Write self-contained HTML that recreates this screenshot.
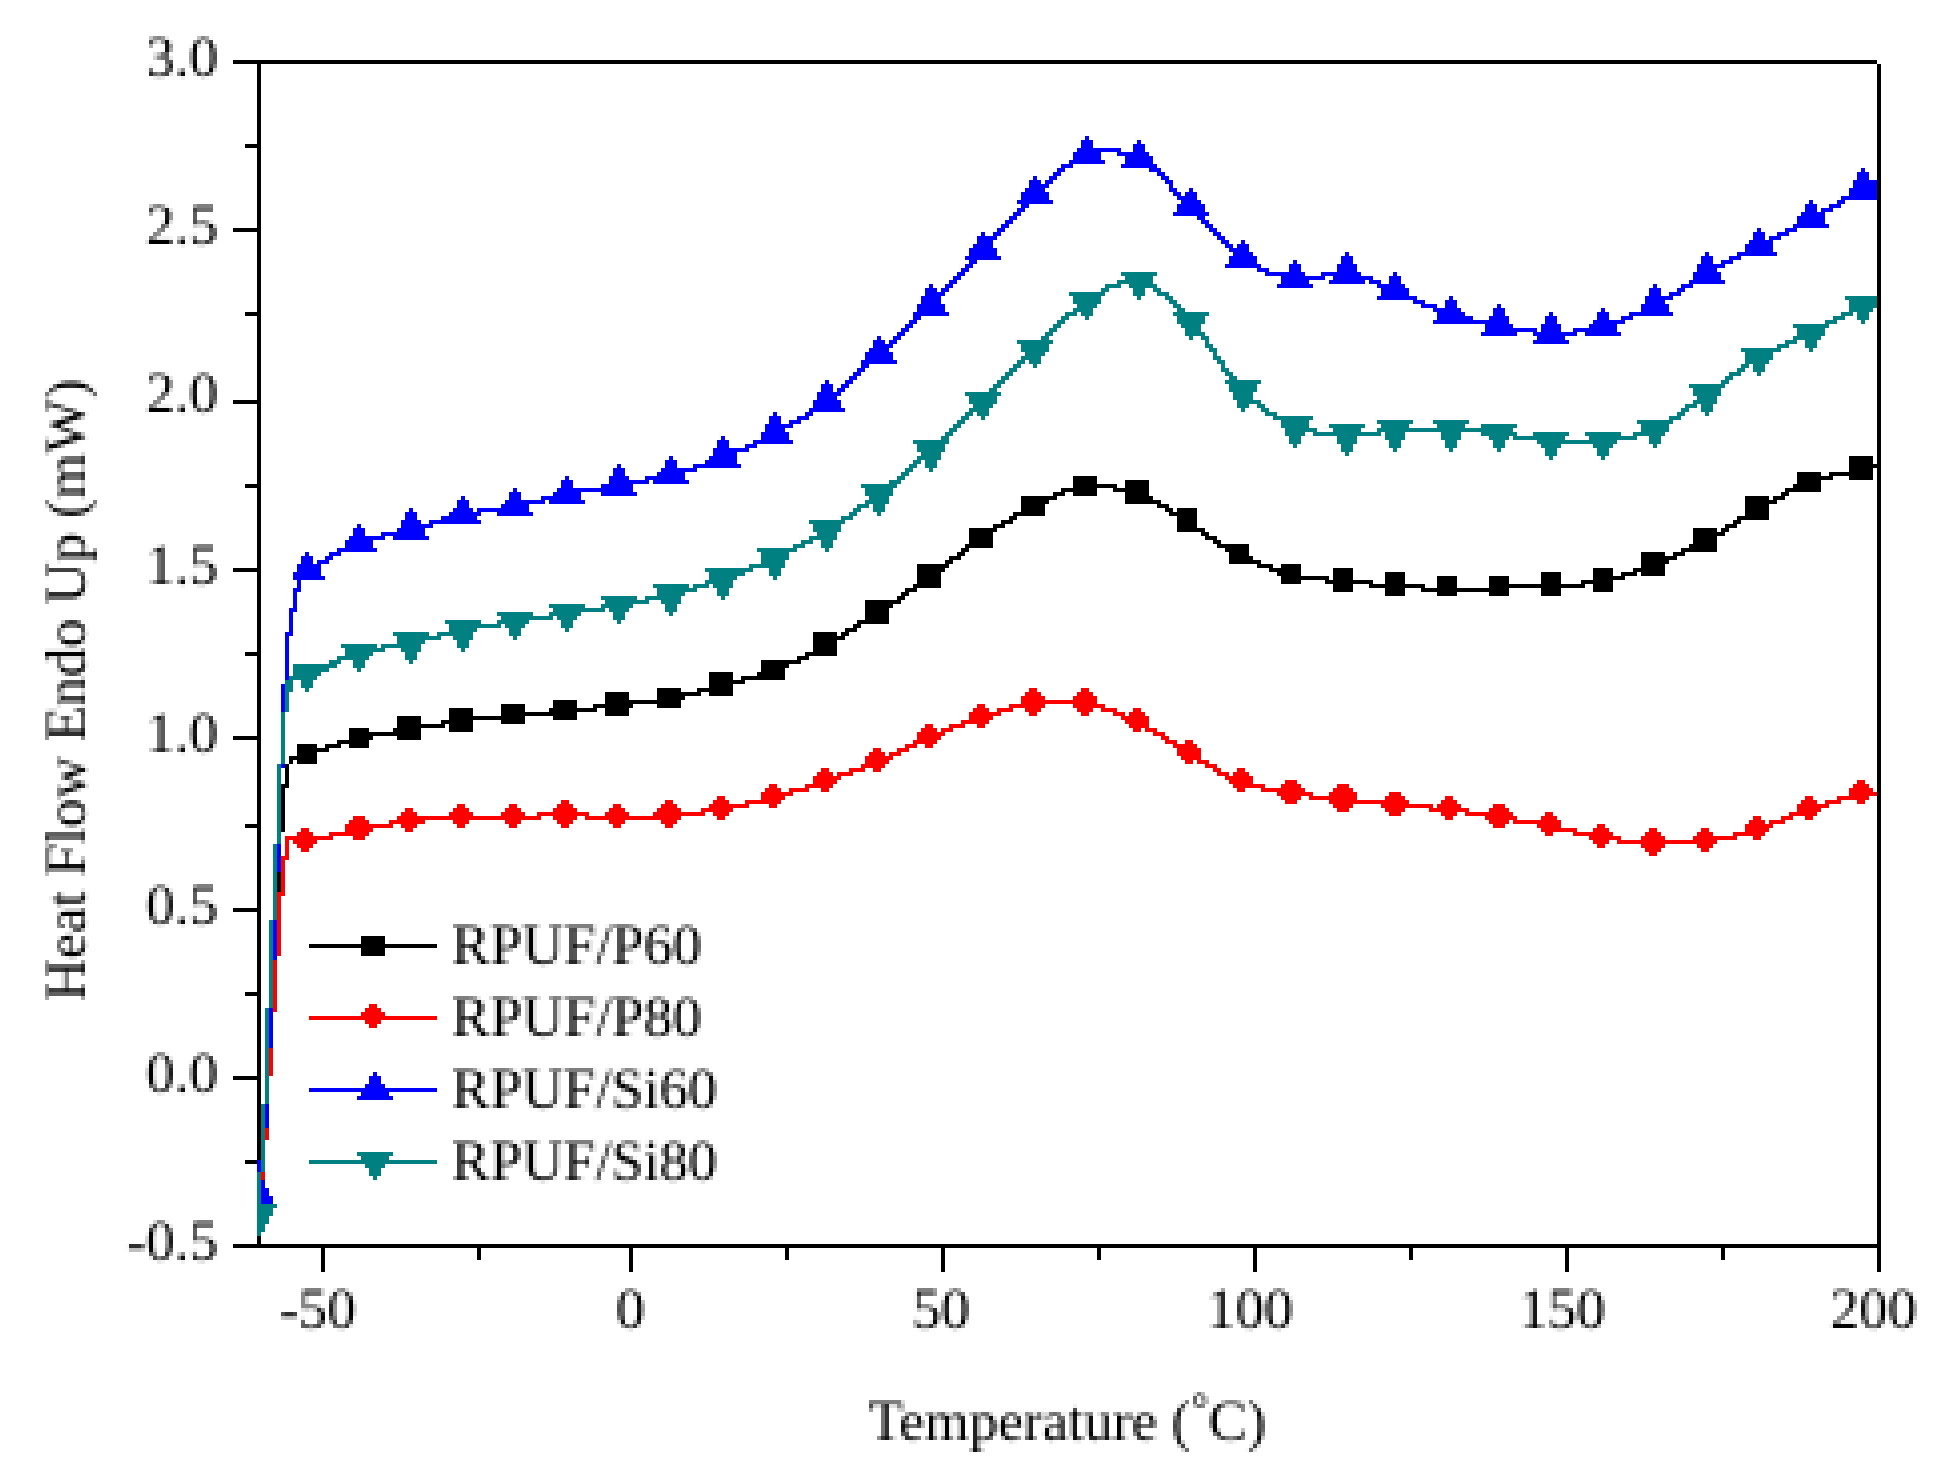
<!DOCTYPE html>
<html lang="en">
<head>
<meta charset="utf-8">
<title>DSC heat flow curves</title>
<style>
html,body{margin:0;padding:0;background:#fff;}
body{width:1938px;height:1476px;overflow:hidden;}
svg{display:block;}
text{font-family:"Liberation Serif",serif;font-size:57.6px;fill:#000;}
</style>
</head>
<body>
<svg width="1938" height="1476" viewBox="0 0 1938 1476">
<rect width="1938" height="1476" fill="#fff"/>
<g transform="translate(1 0) scale(4)" shape-rendering="crispEdges">
<path fill="#000000" d="M58 15h411v1h-411zM64 16h1v20h-1zM469 16h1v100h-1zM61 36h4v1h-4zM64 37h1v20h-1zM58 57h7v1h-7zM64 58h1v20h-1zM61 78h4v1h-4zM64 79h1v21h-1zM58 100h7v1h-7zM64 101h1v20h-1zM462 114h6v2h-6zM462 116h8v1h-8zM462 117h6v1h-6zM469 117h1v194h-1zM449 118h6v1h-6zM457 118h11v1h-11zM268 119h6v2h-6zM449 119h9v1h-9zM462 119h6v1h-6zM281 120h6v2h-6zM449 120h6v1h-6zM61 121h4v1h-4zM268 121h11v1h-11zM448 121h7v1h-7zM64 122h1v20h-1zM265 122h9v1h-9zM278 122h9v1h-9zM446 122h9v1h-9zM263 123h3v1h-3zM268 123h6v1h-6zM281 123h6v1h-6zM445 123h2v1h-2zM255 124h9v1h-9zM281 124h7v1h-7zM436 124h6v1h-6zM443 124h3v1h-3zM255 125h7v1h-7zM281 125h9v1h-9zM436 125h8v1h-8zM255 126h6v2h-6zM289 126h3v1h-3zM436 126h6v3h-6zM291 127h2v1h-2zM294 127h5v1h-5zM253 128h8v1h-8zM292 128h7v1h-7zM252 129h2v1h-2zM294 129h5v3h-5zM434 129h8v1h-8zM250 130h3v1h-3zM433 130h2v1h-2zM248 131h3v1h-3zM431 131h3v1h-3zM242 132h7v1h-7zM294 132h7v1h-7zM423 132h6v1h-6zM430 132h2v1h-2zM242 133h6v3h-6zM300 133h2v1h-2zM423 133h8v1h-8zM301 134h3v1h-3zM423 134h6v2h-6zM303 135h2v1h-2zM241 136h7v1h-7zM304 136h8v1h-8zM422 136h7v1h-7zM240 137h2v1h-2zM306 137h6v1h-6zM420 137h9v1h-9zM239 138h2v1h-2zM307 138h5v1h-5zM410 138h6v1h-6zM418 138h3v1h-3zM237 139h3v1h-3zM307 139h6v1h-6zM410 139h9v1h-9zM236 140h2v1h-2zM307 140h8v1h-8zM410 140h7v1h-7zM229 141h8v1h-8zM314 141h4v1h-4zM320 141h5v1h-5zM410 141h6v1h-6zM58 142h7v1h-7zM229 142h7v1h-7zM317 142h8v1h-8zM333 142h5v3h-5zM398 142h5v2h-5zM408 142h8v1h-8zM64 143h1v20h-1zM229 143h6v3h-6zM319 143h6v1h-6zM346 143h5v3h-5zM385 143h5v3h-5zM405 143h4v1h-4zM410 143h6v1h-6zM320 144h12v1h-12zM359 144h5v3h-5zM372 144h5v2h-5zM398 144h8v1h-8zM320 145h5v1h-5zM331 145h12v1h-12zM395 145h8v1h-8zM228 146h7v1h-7zM333 146h5v2h-5zM342 146h14v1h-14zM372 146h24v1h-24zM398 146h5v2h-5zM226 147h3v1h-3zM346 147h5v2h-5zM355 147h22v1h-22zM385 147h5v2h-5zM225 148h2v1h-2zM359 148h5v1h-5zM372 148h5v1h-5zM224 149h2v1h-2zM216 150h9v1h-9zM216 151h7v1h-7zM216 152h6v3h-6zM214 155h8v1h-8zM213 156h2v1h-2zM211 157h3v1h-3zM203 158h6v1h-6zM210 158h2v1h-2zM203 159h8v1h-8zM203 160h6v3h-6zM61 163h4v1h-4zM201 163h8v1h-8zM64 164h1v20h-1zM199 164h3v1h-3zM190 165h10v1h-10zM190 166h7v1h-7zM190 167h6v1h-6zM177 168h6v2h-6zM189 168h7v1h-7zM185 169h11v1h-11zM177 170h9v1h-9zM177 171h6v1h-6zM164 172h6v1h-6zM174 172h9v1h-9zM151 173h6v2h-6zM164 173h11v1h-11zM177 173h6v1h-6zM164 174h7v1h-7zM138 175h6v2h-6zM151 175h19v1h-19zM125 176h6v2h-6zM148 176h10v1h-10zM164 176h6v1h-6zM112 177h6v2h-6zM137 177h12v1h-12zM151 177h6v2h-6zM125 178h19v1h-19zM99 179h6v2h-6zM112 179h19v1h-19zM138 179h6v1h-6zM110 180h8v1h-8zM125 180h6v1h-6zM99 181h12v1h-12zM112 181h6v2h-6zM87 182h5v1h-5zM98 182h7v1h-7zM87 183h18v1h-18zM58 184h7v1h-7zM87 184h6v1h-6zM99 184h6v1h-6zM64 185h1v21h-1zM84 185h8v1h-8zM74 186h5v1h-5zM81 186h4v1h-4zM87 186h5v1h-5zM74 187h8v1h-8zM74 188h5v1h-5zM72 189h7v1h-7zM72 190h1v1h-1zM74 190h5v1h-5zM71 191h1v5h-1zM70 196h2v1h-2zM70 197h1v11h-1zM61 206h4v1h-4zM64 207h1v20h-1zM69 218h1v5h-1zM58 227h7v1h-7zM64 228h1v20h-1zM90 234h6v2h-6zM77 236h32v1h-32zM90 237h6v2h-6zM61 248h4v1h-4zM64 249h1v20h-1zM58 269h7v1h-7zM64 270h1v20h-1zM61 290h3v1h-3zM64 309h1v2h-1zM58 311h412v1h-412zM80 312h1v6h-1zM119 312h1v3h-1zM157 312h1v6h-1zM196 312h1v3h-1zM235 312h1v6h-1zM274 312h1v3h-1zM313 312h1v6h-1zM352 312h1v3h-1zM391 312h1v6h-1zM430 312h1v3h-1zM469 312h1v6h-1z"/>
<path fill="#ff0000" d="M257 172h2v1h-2zM270 172h2v1h-2zM256 173h4v1h-4zM269 173h4v1h-4zM255 174h6v1h-6zM268 174h6v1h-6zM255 175h19v1h-19zM244 176h2v1h-2zM252 176h9v1h-9zM268 176h8v1h-8zM243 177h4v1h-4zM249 177h4v1h-4zM256 177h4v1h-4zM269 177h4v1h-4zM275 177h4v1h-4zM283 177h2v1h-2zM242 178h8v1h-8zM257 178h2v1h-2zM270 178h2v1h-2zM278 178h3v1h-3zM282 178h4v1h-4zM242 179h6v1h-6zM280 179h7v1h-7zM240 180h7v1h-7zM281 180h6v1h-6zM231 181h2v1h-2zM237 181h4v1h-4zM244 181h2v1h-2zM282 181h5v1h-5zM230 182h4v1h-4zM235 182h3v1h-3zM283 182h2v1h-2zM286 182h3v1h-3zM229 183h7v1h-7zM288 183h3v1h-3zM229 184h6v1h-6zM290 184h2v1h-2zM228 185h6v1h-6zM291 185h3v1h-3zM296 185h2v1h-2zM226 186h3v1h-3zM231 186h2v1h-2zM293 186h6v1h-6zM218 187h2v1h-2zM224 187h3v1h-3zM294 187h6v2h-6zM217 188h4v1h-4zM222 188h3v1h-3zM216 189h7v1h-7zM295 189h5v1h-5zM216 190h6v1h-6zM296 190h2v1h-2zM299 190h3v1h-3zM215 191h6v1h-6zM301 191h3v1h-3zM205 192h2v1h-2zM212 192h4v1h-4zM218 192h2v1h-2zM303 192h2v1h-2zM309 192h2v1h-2zM204 193h4v1h-4zM209 193h4v1h-4zM304 193h3v1h-3zM308 193h4v1h-4zM203 194h7v1h-7zM306 194h7v1h-7zM203 195h6v1h-6zM307 195h6v1h-6zM321 195h3v1h-3zM464 195h2v1h-2zM192 196h2v1h-2zM201 196h7v1h-7zM308 196h8v1h-8zM320 196h5v1h-5zM334 196h3v1h-3zM463 196h4v1h-4zM191 197h4v1h-4zM197 197h5v1h-5zM205 197h2v1h-2zM309 197h2v1h-2zM315 197h11v1h-11zM333 197h5v1h-5zM462 197h6v1h-6zM190 198h8v1h-8zM319 198h9v1h-9zM332 198h7v1h-7zM347 198h3v1h-3zM462 198h7v1h-7zM179 199h2v1h-2zM190 199h6v1h-6zM320 199h5v1h-5zM327 199h12v1h-12zM346 199h5v1h-5zM361 199h2v1h-2zM451 199h2v1h-2zM459 199h8v1h-8zM140 200h2v1h-2zM166 200h2v1h-2zM178 200h4v1h-4zM186 200h9v1h-9zM321 200h3v1h-3zM332 200h20v1h-20zM360 200h4v1h-4zM450 200h4v1h-4zM456 200h4v1h-4zM464 200h2v1h-2zM114 201h2v1h-2zM127 201h2v1h-2zM139 201h4v1h-4zM153 201h2v1h-2zM165 201h4v1h-4zM177 201h10v1h-10zM192 201h2v1h-2zM333 201h5v1h-5zM345 201h13v1h-13zM359 201h6v1h-6zM373 201h3v1h-3zM449 201h8v1h-8zM101 202h2v1h-2zM113 202h4v1h-4zM126 202h4v1h-4zM138 202h6v1h-6zM152 202h4v1h-4zM164 202h6v1h-6zM175 202h8v1h-8zM334 202h3v1h-3zM346 202h5v1h-5zM357 202h10v1h-10zM372 202h5v1h-5zM449 202h6v1h-6zM100 203h4v1h-4zM112 203h6v1h-6zM125 203h6v1h-6zM134 203h13v1h-13zM151 203h6v1h-6zM163 203h13v1h-13zM178 203h4v1h-4zM347 203h3v1h-3zM360 203h4v1h-4zM366 203h12v1h-12zM386 203h2v1h-2zM447 203h7v1h-7zM88 204h3v1h-3zM99 204h36v1h-36zM138 204h6v1h-6zM146 204h24v1h-24zM179 204h2v1h-2zM361 204h2v1h-2zM371 204h8v1h-8zM385 204h4v1h-4zM438 204h2v1h-2zM445 204h3v1h-3zM451 204h2v1h-2zM87 205h5v1h-5zM97 205h9v1h-9zM113 205h4v1h-4zM126 205h4v1h-4zM139 205h4v1h-4zM152 205h4v1h-4zM165 205h4v1h-4zM372 205h5v1h-5zM378 205h12v1h-12zM437 205h4v1h-4zM442 205h4v1h-4zM86 206h12v1h-12zM100 206h4v1h-4zM114 206h2v1h-2zM127 206h2v1h-2zM140 206h2v1h-2zM153 206h2v1h-2zM166 206h2v1h-2zM373 206h3v1h-3zM384 206h6v1h-6zM399 206h2v1h-2zM436 206h7v1h-7zM75 207h2v1h-2zM86 207h7v1h-7zM101 207h2v1h-2zM385 207h9v1h-9zM398 207h4v1h-4zM412 207h2v1h-2zM425 207h2v1h-2zM436 207h6v1h-6zM74 208h4v1h-4zM82 208h10v1h-10zM386 208h2v1h-2zM393 208h10v1h-10zM411 208h4v1h-4zM424 208h4v1h-4zM433 208h8v1h-8zM71 209h12v1h-12zM88 209h3v1h-3zM397 209h8v1h-8zM410 209h6v1h-6zM423 209h11v1h-11zM438 209h2v1h-2zM71 210h1v4h-1zM73 210h6v1h-6zM398 210h4v1h-4zM404 210h25v1h-25zM74 211h4v1h-4zM399 211h2v1h-2zM410 211h6v1h-6zM424 211h4v1h-4zM75 212h2v1h-2zM411 212h4v1h-4zM425 212h2v1h-2zM412 213h2v1h-2zM70 214h2v1h-2zM70 215h1v8h-1zM69 223h2v1h-2zM69 224h1v15h-1zM68 240h1v13h-1zM92 251h2v1h-2zM91 252h4v1h-4zM90 253h6v1h-6zM77 254h32v1h-32zM91 255h4v1h-4zM92 256h2v1h-2zM67 262h1v7h-1zM66 282h1v3h-1zM65 293h1v2h-1z"/>
<path fill="#0000ff" d="M271 34h1v1h-1zM270 35h3v2h-3zM284 35h1v1h-1zM283 36h3v2h-3zM269 37h11v1h-11zM268 38h7v2h-7zM279 38h8v1h-8zM281 39h7v2h-7zM267 40h9v1h-9zM265 41h3v1h-3zM280 41h9v1h-9zM264 42h2v1h-2zM287 42h3v1h-3zM465 42h1v1h-1zM263 43h2v1h-2zM289 43h2v1h-2zM464 43h3v2h-3zM258 44h1v1h-1zM262 44h2v1h-2zM290 44h2v1h-2zM257 45h3v1h-3zM261 45h2v1h-2zM291 45h2v1h-2zM463 45h6v2h-6zM257 46h5v1h-5zM292 46h1v1h-1zM256 47h5v1h-5zM292 47h2v1h-2zM297 47h1v1h-1zM462 47h7v2h-7zM255 48h7v2h-7zM293 48h2v1h-2zM296 48h3v1h-3zM294 49h5v1h-5zM460 49h9v1h-9zM254 50h9v1h-9zM295 50h5v1h-5zM452 50h1v1h-1zM459 50h2v1h-2zM255 51h2v1h-2zM294 51h7v2h-7zM451 51h3v2h-3zM457 51h3v1h-3zM254 52h2v1h-2zM455 52h3v1h-3zM253 53h2v1h-2zM293 53h9v1h-9zM450 53h6v1h-6zM252 54h2v1h-2zM299 54h2v1h-2zM449 54h7v2h-7zM251 55h2v1h-2zM300 55h2v1h-2zM250 56h2v1h-2zM301 56h2v1h-2zM448 56h9v1h-9zM249 57h2v1h-2zM302 57h2v1h-2zM439 57h1v1h-1zM446 57h3v1h-3zM245 58h1v1h-1zM248 58h2v1h-2zM303 58h2v1h-2zM438 58h3v2h-3zM444 58h3v1h-3zM244 59h5v1h-5zM304 59h2v1h-2zM442 59h3v1h-3zM244 60h4v1h-4zM305 60h2v1h-2zM310 60h1v1h-1zM437 60h6v1h-6zM243 61h5v1h-5zM306 61h2v1h-2zM309 61h3v1h-3zM436 61h7v2h-7zM242 62h7v2h-7zM307 62h5v1h-5zM308 63h5v1h-5zM336 63h1v1h-1zM426 63h1v1h-1zM434 63h10v1h-10zM241 64h9v1h-9zM307 64h7v2h-7zM335 64h3v2h-3zM425 64h3v2h-3zM432 64h3v1h-3zM242 65h2v1h-2zM323 65h1v1h-1zM430 65h3v1h-3zM241 66h2v1h-2zM306 66h9v1h-9zM322 66h3v2h-3zM334 66h5v2h-5zM424 66h7v1h-7zM240 67h2v1h-2zM314 67h3v1h-3zM424 67h5v1h-5zM239 68h2v1h-2zM316 68h10v1h-10zM330 68h10v1h-10zM348 68h1v1h-1zM423 68h7v2h-7zM238 69h2v1h-2zM320 69h11v1h-11zM333 69h10v1h-10zM347 69h3v2h-3zM237 70h2v1h-2zM320 70h7v1h-7zM332 70h9v1h-9zM342 70h3v1h-3zM422 70h9v1h-9zM232 71h1v1h-1zM236 71h2v1h-2zM319 71h9v1h-9zM344 71h7v1h-7zM413 71h1v1h-1zM420 71h3v1h-3zM231 72h3v1h-3zM235 72h2v1h-2zM345 72h7v2h-7zM412 72h3v2h-3zM419 72h2v1h-2zM231 73h5v1h-5zM417 73h3v1h-3zM230 74h5v2h-5zM344 74h10v1h-10zM362 74h1v1h-1zM411 74h7v1h-7zM353 75h3v1h-3zM361 75h3v2h-3zM411 75h5v1h-5zM229 76h7v2h-7zM355 76h4v1h-4zM374 76h1v1h-1zM410 76h7v2h-7zM358 77h7v1h-7zM373 77h3v2h-3zM400 77h1v1h-1zM228 78h9v1h-9zM359 78h7v1h-7zM387 78h1v1h-1zM399 78h3v2h-3zM407 78h11v1h-11zM228 79h2v1h-2zM359 79h9v1h-9zM372 79h5v1h-5zM386 79h3v2h-3zM405 79h3v1h-3zM227 80h2v1h-2zM358 80h19v1h-19zM398 80h8v1h-8zM226 81h2v1h-2zM371 81h7v1h-7zM385 81h5v2h-5zM397 81h7v1h-7zM225 82h2v1h-2zM371 82h13v1h-13zM393 82h11v1h-11zM224 83h2v1h-2zM370 83h9v1h-9zM383 83h11v1h-11zM396 83h9v1h-9zM219 84h1v1h-1zM223 84h2v1h-2zM384 84h7v1h-7zM218 85h3v1h-3zM222 85h2v1h-2zM383 85h9v1h-9zM218 86h5v1h-5zM217 87h5v1h-5zM216 88h7v2h-7zM215 90h9v1h-9zM215 91h2v1h-2zM214 92h2v1h-2zM213 93h2v1h-2zM212 94h2v1h-2zM206 95h1v1h-1zM211 95h2v1h-2zM205 96h3v2h-3zM210 96h2v1h-2zM209 97h2v1h-2zM204 98h6v1h-6zM204 99h5v1h-5zM203 100h7v2h-7zM202 102h9v1h-9zM193 103h1v1h-1zM201 103h2v1h-2zM192 104h3v2h-3zM199 104h3v1h-3zM197 105h3v1h-3zM191 106h7v1h-7zM191 107h5v1h-5zM190 108h7v2h-7zM180 109h1v1h-1zM179 110h3v2h-3zM188 110h10v1h-10zM186 111h3v1h-3zM178 112h9v1h-9zM178 113h6v1h-6zM167 114h1v1h-1zM177 114h7v1h-7zM166 115h3v2h-3zM176 115h8v1h-8zM154 116h1v1h-1zM173 116h12v1h-12zM153 117h3v2h-3zM165 117h9v1h-9zM164 118h7v1h-7zM141 119h1v1h-1zM152 119h5v1h-5zM161 119h10v1h-10zM140 120h3v2h-3zM152 120h10v1h-10zM163 120h9v1h-9zM150 121h8v1h-8zM128 122h1v1h-1zM139 122h19v1h-19zM127 123h3v2h-3zM138 123h7v1h-7zM150 123h9v1h-9zM115 124h1v1h-1zM135 124h10v1h-10zM114 125h3v2h-3zM126 125h10v1h-10zM137 125h9v1h-9zM125 126h7v1h-7zM102 127h1v1h-1zM113 127h5v1h-5zM119 127h13v1h-13zM101 128h3v2h-3zM112 128h8v1h-8zM124 128h9v1h-9zM110 129h9v1h-9zM100 130h5v1h-5zM107 130h13v1h-13zM89 131h1v1h-1zM100 131h8v1h-8zM88 132h3v2h-3zM99 132h7v1h-7zM95 133h11v1h-11zM87 134h9v1h-9zM98 134h9v1h-9zM86 135h7v2h-7zM84 137h10v1h-10zM76 138h1v1h-1zM82 138h3v1h-3zM75 139h3v2h-3zM81 139h2v1h-2zM79 140h3v1h-3zM74 141h6v2h-6zM73 143h7v1h-7zM73 144h8v1h-8zM74 145h1v2h-1zM73 147h2v1h-2zM73 148h1v4h-1zM72 152h2v1h-2zM72 153h1v5h-1zM71 158h2v1h-2zM71 159h1v11h-1zM70 171h1v7h-1zM70 191h1v1h-1zM69 211h1v7h-1zM68 230h1v10h-1zM67 252h1v10h-1zM93 268h1v1h-1zM92 269h3v2h-3zM91 271h5v1h-5zM77 272h32v1h-32zM90 273h7v1h-7zM89 274h9v1h-9zM66 276h1v6h-1zM64 290h1v3h-1zM65 295h1v2h-1zM65 297h2v2h-2zM65 299h3v2h-3z"/>
<path fill="#008080" d="M280 68h9v1h-9zM281 69h7v1h-7zM279 70h9v1h-9zM276 71h4v1h-4zM282 71h7v1h-7zM275 72h2v1h-2zM283 72h3v2h-3zM288 72h2v1h-2zM267 73h9v1h-9zM289 73h3v1h-3zM268 74h7v2h-7zM284 74h1v1h-1zM291 74h2v1h-2zM461 74h8v1h-8zM292 75h2v1h-2zM462 75h7v2h-7zM269 76h5v1h-5zM293 76h2v1h-2zM268 77h5v1h-5zM294 77h2v1h-2zM462 77h6v1h-6zM266 78h3v1h-3zM270 78h3v1h-3zM293 78h9v1h-9zM460 78h3v1h-3zM464 78h3v2h-3zM265 79h2v1h-2zM271 79h1v1h-1zM294 79h7v2h-7zM458 79h3v1h-3zM264 80h2v1h-2zM456 80h3v1h-3zM465 80h1v1h-1zM263 81h2v1h-2zM295 81h5v1h-5zM448 81h9v1h-9zM262 82h2v1h-2zM296 82h4v1h-4zM449 82h7v2h-7zM261 83h2v1h-2zM296 83h5v1h-5zM260 84h2v1h-2zM297 84h1v1h-1zM300 84h2v1h-2zM448 84h7v1h-7zM254 85h9v1h-9zM301 85h1v1h-1zM446 85h3v1h-3zM451 85h3v2h-3zM255 86h7v2h-7zM301 86h2v1h-2zM444 86h3v1h-3zM302 87h2v1h-2zM435 87h10v1h-10zM452 87h1v1h-1zM256 88h5v1h-5zM303 88h1v1h-1zM436 88h7v2h-7zM255 89h5v1h-5zM303 89h2v1h-2zM254 90h2v1h-2zM257 90h3v1h-3zM304 90h2v1h-2zM436 90h6v1h-6zM253 91h2v1h-2zM258 91h1v1h-1zM305 91h1v1h-1zM435 91h2v1h-2zM438 91h3v2h-3zM252 92h2v1h-2zM305 92h2v1h-2zM434 92h2v1h-2zM251 93h2v1h-2zM306 93h2v1h-2zM432 93h3v1h-3zM439 93h1v1h-1zM250 94h2v1h-2zM307 94h2v1h-2zM431 94h2v1h-2zM249 95h2v1h-2zM306 95h9v1h-9zM430 95h2v1h-2zM248 96h2v1h-2zM307 96h7v2h-7zM422 96h9v1h-9zM247 97h2v1h-2zM423 97h7v2h-7zM241 98h9v1h-9zM308 98h5v2h-5zM242 99h7v2h-7zM424 99h5v1h-5zM309 100h6v1h-6zM423 100h6v1h-6zM243 101h5v1h-5zM309 101h3v1h-3zM314 101h2v1h-2zM421 101h3v1h-3zM425 101h3v2h-3zM242 102h5v1h-5zM310 102h1v1h-1zM315 102h2v1h-2zM420 102h2v1h-2zM241 103h2v1h-2zM244 103h3v1h-3zM316 103h3v1h-3zM419 103h2v1h-2zM426 103h1v1h-1zM240 104h2v1h-2zM245 104h1v1h-1zM318 104h10v1h-10zM417 104h3v1h-3zM239 105h2v1h-2zM320 105h7v2h-7zM344 105h9v1h-9zM358 105h9v1h-9zM409 105h9v1h-9zM238 106h2v1h-2zM332 106h9v1h-9zM345 106h7v1h-7zM359 106h7v1h-7zM370 106h9v1h-9zM410 106h7v2h-7zM237 107h2v1h-2zM321 107h8v1h-8zM333 107h7v1h-7zM344 107h34v1h-34zM236 108h2v1h-2zM321 108h5v1h-5zM328 108h17v1h-17zM346 108h5v2h-5zM360 108h5v2h-5zM370 108h9v1h-9zM383 108h9v1h-9zM396 108h9v1h-9zM408 108h8v1h-8zM235 109h2v1h-2zM322 109h3v2h-3zM334 109h5v2h-5zM372 109h5v1h-5zM378 109h13v1h-13zM397 109h12v1h-12zM412 109h3v2h-3zM228 110h9v1h-9zM347 110h3v2h-3zM361 110h3v2h-3zM373 110h3v2h-3zM384 110h20v1h-20zM229 111h7v2h-7zM323 111h1v1h-1zM335 111h3v2h-3zM385 111h5v1h-5zM398 111h5v1h-5zM413 111h1v1h-1zM348 112h1v1h-1zM362 112h1v1h-1zM374 112h1v1h-1zM386 112h3v2h-3zM399 112h3v2h-3zM230 113h5v1h-5zM336 113h1v1h-1zM229 114h6v1h-6zM387 114h1v1h-1zM400 114h1v1h-1zM228 115h2v1h-2zM231 115h3v2h-3zM227 116h2v1h-2zM226 117h2v1h-2zM232 117h1v1h-1zM225 118h2v1h-2zM224 119h2v1h-2zM222 120h3v1h-3zM215 121h9v1h-9zM216 122h7v2h-7zM217 124h5v1h-5zM216 125h6v1h-6zM214 126h3v1h-3zM218 126h3v2h-3zM213 127h2v1h-2zM212 128h2v1h-2zM219 128h1v1h-1zM210 129h3v1h-3zM202 130h9v1h-9zM203 131h7v2h-7zM204 133h5v1h-5zM202 134h7v1h-7zM200 135h3v1h-3zM205 135h3v2h-3zM198 136h3v1h-3zM189 137h10v1h-10zM206 137h1v1h-1zM190 138h7v2h-7zM190 140h6v1h-6zM187 141h9v1h-9zM176 142h12v1h-12zM192 142h3v2h-3zM177 143h9v1h-9zM177 144h7v1h-7zM193 144h1v1h-1zM176 145h7v1h-7zM163 146h9v1h-9zM173 146h4v1h-4zM178 146h5v1h-5zM164 147h10v1h-10zM179 147h3v2h-3zM164 148h7v1h-7zM150 149h9v1h-9zM161 149h9v1h-9zM180 149h1v1h-1zM151 150h11v1h-11zM165 150h5v1h-5zM137 151h9v1h-9zM150 151h8v1h-8zM166 151h3v2h-3zM138 152h13v1h-13zM152 152h5v1h-5zM124 153h9v1h-9zM137 153h8v1h-8zM153 153h3v2h-3zM167 153h1v1h-1zM125 154h13v1h-13zM139 154h5v1h-5zM111 155h9v1h-9zM124 155h8v1h-8zM140 155h3v2h-3zM154 155h1v1h-1zM112 156h13v1h-13zM126 156h5v1h-5zM112 157h7v1h-7zM127 157h3v2h-3zM141 157h1v1h-1zM98 158h9v1h-9zM109 158h9v1h-9zM99 159h11v1h-11zM113 159h5v1h-5zM128 159h1v1h-1zM99 160h7v1h-7zM114 160h3v2h-3zM85 161h9v1h-9zM95 161h10v1h-10zM86 162h10v1h-10zM100 162h5v1h-5zM115 162h1v1h-1zM86 163h7v1h-7zM101 163h3v2h-3zM84 164h8v1h-8zM82 165h3v1h-3zM88 165h3v2h-3zM102 165h1v1h-1zM73 166h11v1h-11zM73 167h9v1h-9zM89 167h1v1h-1zM73 168h7v1h-7zM72 169h7v1h-7zM71 170h2v3h-2zM75 170h3v2h-3zM76 172h1v1h-1zM71 173h1v5h-1zM70 178h1v13h-1zM69 191h1v20h-1zM68 211h1v19h-1zM67 230h1v22h-1zM66 252h1v24h-1zM65 276h1v17h-1zM89 288h9v1h-9zM90 289h7v1h-7zM77 290h32v1h-32zM91 291h5v1h-5zM92 292h3v2h-3zM64 293h1v8h-1zM93 294h1v1h-1zM64 301h5v1h-5zM64 302h4v2h-4zM64 304h3v2h-3zM64 306h2v2h-2zM64 308h1v1h-1z"/>
</g>
<defs>
<filter id="pix_ylab" filterUnits="userSpaceOnUse" primitiveUnits="userSpaceOnUse" x="117" y="24" width="112" height="1252" color-interpolation-filters="sRGB">
<feFlood x="118" y="25" width="1" height="1" flood-color="#000" flood-opacity="1" result="dot"/>
<feOffset in="dot" dx="0" dy="0" x="117" y="24" width="4" height="4" result="cell"/>
<feTile in="cell" result="mask"/>
<feConvolveMatrix in="SourceGraphic" order="4 1" kernelMatrix="1 1 1 1" divisor="4" targetX="1" targetY="0" edgeMode="none" preserveAlpha="false" result="bh"/>
<feConvolveMatrix in="bh" order="1 4" kernelMatrix="1 1 1 1" divisor="4" targetX="0" targetY="1" edgeMode="none" preserveAlpha="false" result="avg"/>
<feComposite in="avg" in2="mask" operator="in" result="s"/>
<feOffset in="s" dx="1" dy="0" result="s1"/>
<feMerge result="a"><feMergeNode in="s"/><feMergeNode in="s1"/></feMerge>
<feOffset in="a" dx="0" dy="1" result="a1"/>
<feMerge result="b"><feMergeNode in="a"/><feMergeNode in="a1"/></feMerge>
<feMorphology in="b" operator="dilate" radius="1"/>
</filter>
<filter id="pix_xlab" filterUnits="userSpaceOnUse" primitiveUnits="userSpaceOnUse" x="269" y="1276" width="1668" height="68" color-interpolation-filters="sRGB">
<feFlood x="270" y="1277" width="1" height="1" flood-color="#000" flood-opacity="1" result="dot"/>
<feOffset in="dot" dx="0" dy="0" x="269" y="1276" width="4" height="4" result="cell"/>
<feTile in="cell" result="mask"/>
<feConvolveMatrix in="SourceGraphic" order="4 1" kernelMatrix="1 1 1 1" divisor="4" targetX="1" targetY="0" edgeMode="none" preserveAlpha="false" result="bh"/>
<feConvolveMatrix in="bh" order="1 4" kernelMatrix="1 1 1 1" divisor="4" targetX="0" targetY="1" edgeMode="none" preserveAlpha="false" result="avg"/>
<feComposite in="avg" in2="mask" operator="in" result="s"/>
<feOffset in="s" dx="1" dy="0" result="s1"/>
<feMerge result="a"><feMergeNode in="s"/><feMergeNode in="s1"/></feMerge>
<feOffset in="a" dx="0" dy="1" result="a1"/>
<feMerge result="b"><feMergeNode in="a"/><feMergeNode in="a1"/></feMerge>
<feMorphology in="b" operator="dilate" radius="1"/>
</filter>
<filter id="pix_xtitle" filterUnits="userSpaceOnUse" primitiveUnits="userSpaceOnUse" x="857" y="1380" width="420" height="84" color-interpolation-filters="sRGB">
<feFlood x="858" y="1381" width="1" height="1" flood-color="#000" flood-opacity="1" result="dot"/>
<feOffset in="dot" dx="0" dy="0" x="857" y="1380" width="4" height="4" result="cell"/>
<feTile in="cell" result="mask"/>
<feConvolveMatrix in="SourceGraphic" order="4 1" kernelMatrix="1 1 1 1" divisor="4" targetX="1" targetY="0" edgeMode="none" preserveAlpha="false" result="bh"/>
<feConvolveMatrix in="bh" order="1 4" kernelMatrix="1 1 1 1" divisor="4" targetX="0" targetY="1" edgeMode="none" preserveAlpha="false" result="avg"/>
<feComposite in="avg" in2="mask" operator="in" result="s"/>
<feOffset in="s" dx="1" dy="0" result="s1"/>
<feMerge result="a"><feMergeNode in="s"/><feMergeNode in="s1"/></feMerge>
<feOffset in="a" dx="0" dy="1" result="a1"/>
<feMerge result="b"><feMergeNode in="a"/><feMergeNode in="a1"/></feMerge>
<feMorphology in="b" operator="dilate" radius="1"/>
</filter>
<filter id="pix_ytitle" filterUnits="userSpaceOnUse" primitiveUnits="userSpaceOnUse" x="29" y="368" width="84" height="644" color-interpolation-filters="sRGB">
<feFlood x="30" y="369" width="1" height="1" flood-color="#000" flood-opacity="1" result="dot"/>
<feOffset in="dot" dx="0" dy="0" x="29" y="368" width="4" height="4" result="cell"/>
<feTile in="cell" result="mask"/>
<feConvolveMatrix in="SourceGraphic" order="4 1" kernelMatrix="1 1 1 1" divisor="4" targetX="1" targetY="0" edgeMode="none" preserveAlpha="false" result="bh"/>
<feConvolveMatrix in="bh" order="1 4" kernelMatrix="1 1 1 1" divisor="4" targetX="0" targetY="1" edgeMode="none" preserveAlpha="false" result="avg"/>
<feComposite in="avg" in2="mask" operator="in" result="s"/>
<feOffset in="s" dx="1" dy="0" result="s1"/>
<feMerge result="a"><feMergeNode in="s"/><feMergeNode in="s1"/></feMerge>
<feOffset in="a" dx="0" dy="1" result="a1"/>
<feMerge result="b"><feMergeNode in="a"/><feMergeNode in="a1"/></feMerge>
<feMorphology in="b" operator="dilate" radius="1"/>
</filter>
<filter id="pix_legend" filterUnits="userSpaceOnUse" primitiveUnits="userSpaceOnUse" x="441" y="908" width="292" height="292" color-interpolation-filters="sRGB">
<feFlood x="442" y="909" width="1" height="1" flood-color="#000" flood-opacity="1" result="dot"/>
<feOffset in="dot" dx="0" dy="0" x="441" y="908" width="4" height="4" result="cell"/>
<feTile in="cell" result="mask"/>
<feConvolveMatrix in="SourceGraphic" order="4 1" kernelMatrix="1 1 1 1" divisor="4" targetX="1" targetY="0" edgeMode="none" preserveAlpha="false" result="bh"/>
<feConvolveMatrix in="bh" order="1 4" kernelMatrix="1 1 1 1" divisor="4" targetX="0" targetY="1" edgeMode="none" preserveAlpha="false" result="avg"/>
<feComposite in="avg" in2="mask" operator="in" result="s"/>
<feOffset in="s" dx="1" dy="0" result="s1"/>
<feMerge result="a"><feMergeNode in="s"/><feMergeNode in="s1"/></feMerge>
<feOffset in="a" dx="0" dy="1" result="a1"/>
<feMerge result="b"><feMergeNode in="a"/><feMergeNode in="a1"/></feMerge>
<feMorphology in="b" operator="dilate" radius="1"/>
</filter>
</defs>
<g filter="url(#pix_ylab)">
<text x="218" y="76" text-anchor="end">3.0</text>
<text x="218" y="244" text-anchor="end">2.5</text>
<text x="218" y="412" text-anchor="end">2.0</text>
<text x="218" y="584" text-anchor="end">1.5</text>
<text x="218" y="752" text-anchor="end">1.0</text>
<text x="218" y="924" text-anchor="end">0.5</text>
<text x="218" y="1092" text-anchor="end">0.0</text>
<text x="218" y="1260" text-anchor="end">-0.5</text>
</g>
<g filter="url(#pix_xlab)">
<text x="279.4" y="1328" text-anchor="start">-50</text>
<text x="616.1" y="1328" text-anchor="start">0</text>
<text x="912.3" y="1328" text-anchor="start">50</text>
<text x="1206.7" y="1328" text-anchor="start">100</text>
<text x="1519" y="1328" text-anchor="start">150</text>
<text x="1830.3" y="1328" text-anchor="start">200</text>
</g>
<g filter="url(#pix_xtitle)">
<text x="868" y="1440" textLength="398" lengthAdjust="spacingAndGlyphs">Temperature (<tspan font-size="45" dy="-17.4">°</tspan><tspan dy="17.4">C)</tspan></text>
</g>
<g filter="url(#pix_ytitle)">
<text transform="translate(85 1001) rotate(-90)" x="0" y="0" textLength="622" lengthAdjust="spacingAndGlyphs">Heat Flow Endo Up (mW)</text>
</g>
<g filter="url(#pix_legend)">
<text x="451.5" y="964" text-anchor="start" textLength="250" lengthAdjust="spacingAndGlyphs">RPUF/P60</text>
<text x="451.5" y="1036" text-anchor="start" textLength="250" lengthAdjust="spacingAndGlyphs">RPUF/P80</text>
<text x="451.5" y="1108" text-anchor="start" textLength="265.5" lengthAdjust="spacingAndGlyphs">RPUF/Si60</text>
<text x="451.5" y="1180" text-anchor="start" textLength="265.5" lengthAdjust="spacingAndGlyphs">RPUF/Si80</text>
</g>
</svg>
</body>
</html>
